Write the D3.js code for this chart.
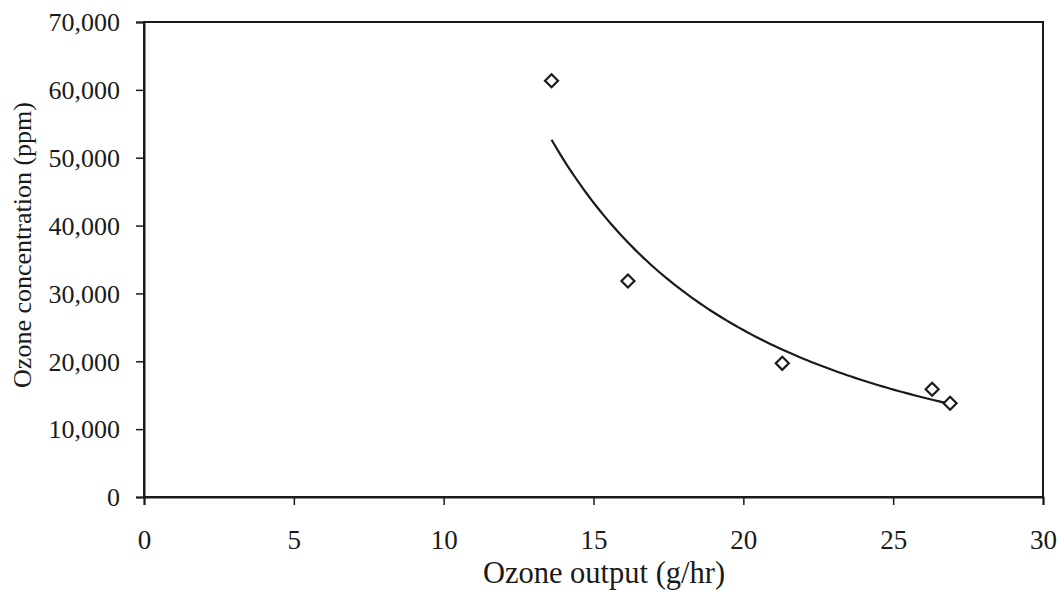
<!DOCTYPE html>
<html>
<head>
<meta charset="utf-8">
<script src="https://cdn.jsdelivr.net/npm/d3@7/dist/d3.min.js"></script>
<style>
  html, body { margin: 0; padding: 0; background: #fff; }
  svg { display: block; }
  text { font-family: "Liberation Serif", "Times New Roman", serif; fill: #1a1a1a; }
</style>
</head>
<body>
<svg id="chart" width="1057" height="597"></svg>
<script>
// ---- data ----
const ozoneOutput = [13.6, 16.15, 21.3, 26.3, 26.9];          // g/hr
const ozoneConc   = [61350, 31830, 19700, 15870, 13810];      // ppm
const xTickValues = [0, 5, 10, 15, 20, 25, 30];
const yTickValues = [0, 10000, 20000, 30000, 40000, 50000, 60000, 70000];
const xTitle = "Ozone output (g/hr)";
const yTitle = "Ozone concentration (ppm)";

const svg = d3.select("#chart");
const plotLeft = 144, plotRight = 1043, plotTop = 22, plotBottom = 497;

const x = d3.scaleLinear().domain([0, 30]).range([plotLeft, plotRight]);
const y = d3.scaleLinear().domain([0, 70000]).range([plotBottom, plotTop]);

const ink = "#1a1a1a";

// plot frame (top and right border)
svg.append("rect")
  .attr("x", plotLeft).attr("y", plotTop)
  .attr("width", plotRight - plotLeft).attr("height", plotBottom - plotTop)
  .attr("fill", "none").attr("stroke", ink).attr("stroke-width", 2);

// axes
const xAxis = svg.append("g")
  .attr("transform", `translate(0,${plotBottom})`)
  .call(d3.axisBottom(x).tickValues(xTickValues).tickSize(8).tickPadding(25).tickFormat(d3.format("d")));
const yAxis = svg.append("g")
  .attr("transform", `translate(${plotLeft},0)`)
  .call(d3.axisLeft(y).tickValues(yTickValues).tickSize(8).tickPadding(16).tickFormat(d3.format(",")));

[xAxis, yAxis].forEach(g => {
  g.select(".domain").attr("stroke", ink).attr("stroke-width", 2);
  g.selectAll(".tick line").attr("stroke", ink).attr("stroke-width", 1.5);
  g.selectAll(".tick text")
    .attr("fill", ink)
    .style("font-family", '"Liberation Serif", "Times New Roman", serif')
    .style("font-size", "26px");
});
xAxis.selectAll(".tick text").attr("dy", "0.71em").style("font-size", "27px");
yAxis.selectAll(".tick text").attr("dy", "0.34em");

// power trendline (least-squares fit in log-log space, as the spreadsheet trendline)
const lx = ozoneOutput.map(Math.log), ly = ozoneConc.map(Math.log);
const mx = d3.mean(lx), my = d3.mean(ly);
const b = d3.sum(lx.map((v, i) => (v - mx) * (ly[i] - my))) / d3.sum(lx.map(v => (v - mx) ** 2));
const a = Math.exp(my - b * mx);
const [xMin, xMax] = d3.extent(ozoneOutput);
const trend = d3.range(0, 101).map(i => {
  const xv = xMin + (xMax - xMin) * i / 100;
  return [xv, a * Math.pow(xv, b)];
});
svg.append("path")
  .datum(trend)
  .attr("fill", "none")
  .attr("stroke", ink)
  .attr("stroke-width", 2.2)
  .attr("d", d3.line().x(d => x(d[0])).y(d => y(d[1])));

// diamond markers
const pts = ozoneOutput.map((v, i) => ({ x: v, y: ozoneConc[i] }));
svg.append("g").selectAll("path")
  .data(pts)
  .join("path")
  .attr("transform", d => `translate(${x(d.x)},${y(d.y)})`)
  .attr("d", "M0,-6.5L6.5,0L0,6.5L-6.5,0Z")
  .attr("fill", "#fff")
  .attr("stroke", ink)
  .attr("stroke-width", 2.2);

// axis titles
svg.append("text")
  .attr("x", 604).attr("y", 583)
  .attr("text-anchor", "middle")
  .style("font-size", "30.5px")
  .text(xTitle);

svg.append("text")
  .attr("transform", `translate(31,245) rotate(-90)`)
  .attr("text-anchor", "middle")
  .style("font-size", "26px")
  .text(yTitle);
</script>
</body>
</html>
